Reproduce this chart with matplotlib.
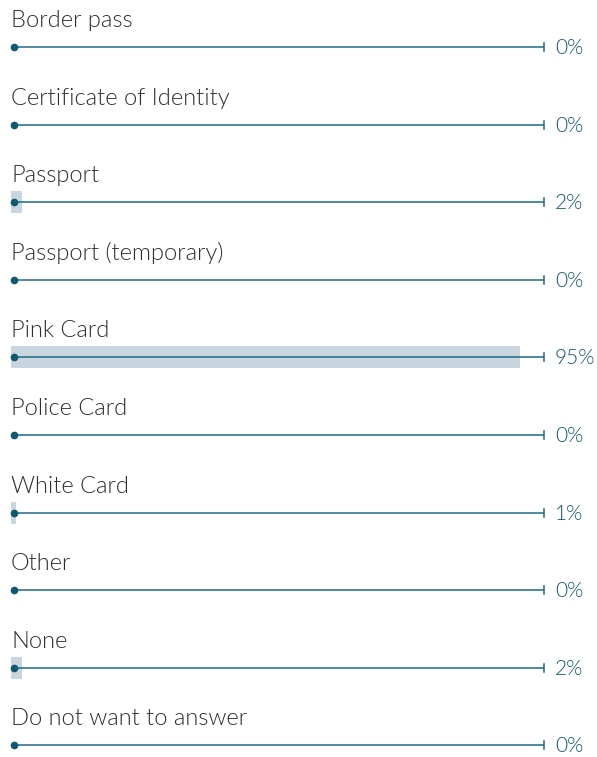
import matplotlib
matplotlib.use("Agg")
import matplotlib.pyplot as plt

categories = ["Border pass", "Certificate of Identity", "Passport", "Passport (temporary)",
              "Pink Card", "Police Card", "White Card", "Other", "None", "Do not want to answer"]
values = [0, 0, 2, 0, 95, 0, 1, 0, 2, 0]
value_labels = ["0%", "0%", "2%", "0%", "95%", "0%", "1%", "0%", "2%", "0%"]

W, H = 597, 757
fig = plt.figure(figsize=(W / 100, H / 100), dpi=100)
ax = fig.add_axes([0, 0, 1, 1])
ax.axis("off")

px_per_pct = 5.36
x0_px = 11
ax.set_xlim(-x0_px / px_per_pct, (W - x0_px) / px_per_pct)
row_px = 77.6
first_px = 47
ax.set_ylim((H - first_px) / row_px, -first_px / row_px)

line_c = "#1d6a84"
bar_c = "#c9d5df"
text_c = "#2e2e2e"
val_c = "#0d5873"
font = "Lato"

line_end = (544 - x0_px) / px_per_pct
dot_x = (14 - x0_px) / px_per_pct
for i, (cat, v, lab) in enumerate(zip(categories, values, value_labels)):
    if v > 0:
        ax.barh(i, v, height=22 / row_px, left=0, color=bar_c, zorder=1)
    ax.plot([dot_x, line_end], [i, i], color=line_c, lw=1.1, zorder=2, solid_capstyle="butt")
    ax.plot([dot_x], [i], "o", color="#0e5a72", ms=4.5, zorder=3)
    ax.plot([line_end, line_end], [i - 4 / row_px, i + 4 / row_px], color=line_c, lw=1.1, zorder=2)
    ax.text((555 - x0_px) / px_per_pct, i + 1 / row_px, lab, color=val_c, fontsize=15,
            fontfamily=font, fontweight=300, va="center", ha="left")
    ax.text((11 - x0_px) / px_per_pct, i - 20 / row_px, cat, color=text_c, fontsize=17,
            fontfamily=font, fontweight=300, va="baseline", ha="left")

fig.savefig("out.png", dpi=100)
